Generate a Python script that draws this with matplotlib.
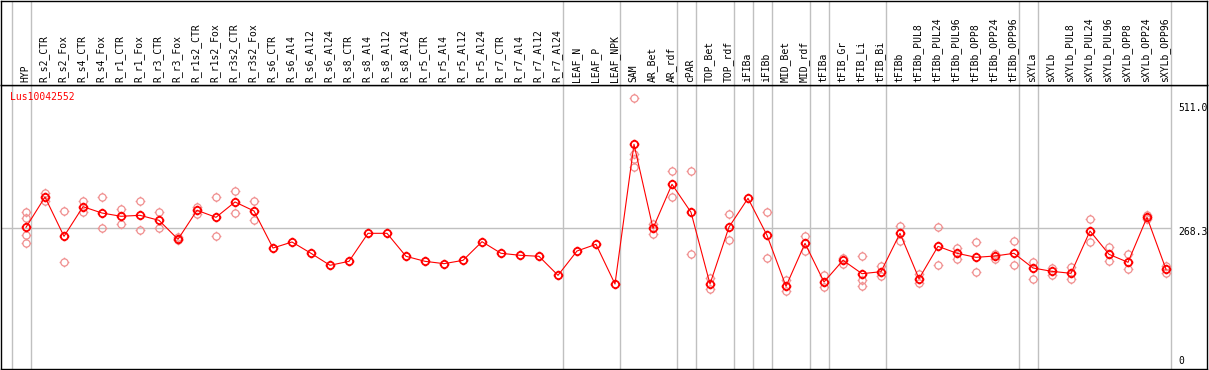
import matplotlib
matplotlib.use('Agg')
import matplotlib.pyplot as plt
import matplotlib.transforms as mtransforms
from matplotlib.path import Path
import numpy as np

gene = 'Lus10042552'

samples = ['HYP', 'R_s2_CTR', 'R_s2_Fox', 'R_s4_CTR', 'R_s4_Fox', 'R_r1_CTR', 'R_r1_Fox',
           'R_r3_CTR', 'R_r3_Fox', 'R_r1s2_CTR', 'R_r1s2_Fox', 'R_r3s2_CTR', 'R_r3s2_Fox',
           'R_s6_CTR', 'R_s6_Al4', 'R_s6_Al12', 'R_s6_Al24', 'R_s8_CTR', 'R_s8_Al4',
           'R_s8_Al12', 'R_s8_Al24', 'R_r5_CTR', 'R_r5_Al4', 'R_r5_Al12', 'R_r5_Al24',
           'R_r7_CTR', 'R_r7_Al4', 'R_r7_Al12', 'R_r7_Al24', 'LEAF_N', 'LEAF_P', 'LEAF_NPK',
           'SAM', 'AR_Bet', 'AR_rdf', 'cPAR', 'TOP_Bet', 'TOP_rdf', 'iFIBa', 'iFIBb',
           'MID_Bet', 'MID_rdf', 'tFIBa', 'tFIB_Gr', 'tFIB_Li', 'tFIB_Bi', 'tFIBb',
           'tFIBb_PUL8', 'tFIBb_PUL24', 'tFIBb_PUL96', 'tFIBb_OPP8', 'tFIBb_OPP24',
           'tFIBb_OPP96', 'sXYLa', 'sXYLb', 'sXYLb_PUL8', 'sXYLb_PUL24', 'sXYLb_PUL96',
           'sXYLb_OPP8', 'sXYLb_OPP24', 'sXYLb_OPP96']

# mean expression per sample
means = [270.2, 329.5, 252.6, 310.6, 298.2, 291.8, 293.7, 283.9, 246.8, 303.5, 289.8,
         319.8, 302.2, 229.7, 241.5, 219.4, 195.9, 203.7, 258.5, 258.5, 213.5, 203.7,
         199.1, 205.6, 242.1, 219.4, 215.5, 213.5, 176.3, 223.9, 237.0, 159.3,
         432.7, 268.3, 354.4, 299.6, 159.3, 270.8, 327.0, 254.6, 154.8, 238.9, 163.2,
         205.7, 179.5, 183.4, 258.5, 169.7, 233.0, 219.4, 211.5, 214.1, 219.4, 190.6,
         184.1, 180.2, 263.0, 217.4, 201.8, 289.8, 188.0]

# individual replicates (empty where only the mean is shown)
reps = [[300.8, 289.0, 254.6, 238.9], [336.8, 321.7], [302.2, 201.8], [321.7, 300.8],
        [328.9, 268.3], [306.1, 276.1], [321.1, 265.0], [300.2, 268.3], [250.7, 245.4],
        [309.4, 296.3], [328.9, 252.6], [341.3, 297.6], [321.7, 284.5],
        [], [], [], [], [], [], [], [], [], [], [], [], [], [], [], [], [], [], [],
        [522.7, 413.7, 404.5, 387.7], [276.7, 257.1], [380.4, 330.1], [380.4, 218.0],
        [170.4, 148.9], [295.7, 244.8], [], [299.6, 209.6], [167.1, 145.0], [253.2, 223.3],
        [176.9, 152.8], [210.8, 198.4], [213.5, 167.1, 155.4], [194.5, 175.0],
        [273.4, 243.4], [178.3, 161.8], [270.3, 195.9], [230.3, 208.8], [240.9, 182.2],
        [218.0, 208.8], [243.4, 195.9], [202.9, 168.5], [191.2, 177.5], [192.0, 169.7],
        [285.9, 241.5], [231.1, 203.7], [217.4, 188.0], [294.9, 287.1], [194.5, 181.4]]

group_ends = [-1, 0, 28, 31, 34, 35, 37, 38, 39, 41, 42, 45, 52, 53, 60]
ref_value = 268.3
y_ticks = [511.0, 268.3, 0]

W, H = 1209, 370
fig = plt.figure(figsize=(W / 100, H / 100), dpi=100)
xl = ((1 - 26) / 19, (1207 - 26) / 19)

ax = fig.add_axes([1 / W, 1 / H, 1206 / W, 284 / H])
ax_top = fig.add_axes([1 / W, 285 / H, 1206 / W, 84.5 / H])
for a in (ax, ax_top):
    a.set_xlim(xl)
    a.set_xticks([])
    a.set_yticks([])
    for s in a.spines.values():
        s.set_color('black')
        s.set_linewidth(1.0)
    for g in group_ends:
        a.axvline(g + 0.24, color='#c0c0c0', lw=1, zorder=0)
ax.set_ylim(-7, 548.7)
ax_top.set_ylim(0, 1)

# circle marker with little ticks
circ = Path.unit_circle()
tk = 1.35
ticks = Path([(0, 1), (0, tk), (0, -1), (0, -tk), (1, 0), (tk, 0), (-1, 0), (-tk, 0)],
             [Path.MOVETO, Path.LINETO] * 4)
mk = Path.make_compound_path(circ, ticks)

x = np.arange(len(samples))
ax.hlines(ref_value, xl[0], group_ends[-1] + 0.24, color='#c0c0c0', lw=1, zorder=0)

for i, r in enumerate(reps):
    if r:
        ax.plot([i] * len(r), r, linestyle='none', marker=mk, markersize=7.0,
                markerfacecolor='none', markeredgecolor='#f08f8f', markeredgewidth=0.9, zorder=2)

ax.plot(x, means, color='red', lw=0.8, marker=mk, markersize=7.0,
        markerfacecolor='none', markeredgecolor='red', markeredgewidth=1.3, zorder=3)

fnt = dict(family='DejaVu Sans Mono', fontsize=7)
for i, s in enumerate(samples):
    ax_top.text(i - 0.05, 3 / 85, s, rotation=90, ha='center', va='bottom', **fnt)

ax.text(9 / 1206, 1 - 12 / 284, gene, color='red', ha='left', va='center',
        transform=ax.transAxes, **fnt)

tr = mtransforms.blended_transform_factory(ax.transAxes, ax.transData)
for v in y_ticks:
    off = -4 if v > 0 else 4
    t = mtransforms.offset_copy(tr, fig=fig, y=off, units='dots')
    ax.text(1177 / 1206, v, f'{v:.1f}' if v > 0 else '0', ha='left', va='center',
            transform=t, clip_on=False, **fnt)

fig.savefig('out.png', dpi=100)
